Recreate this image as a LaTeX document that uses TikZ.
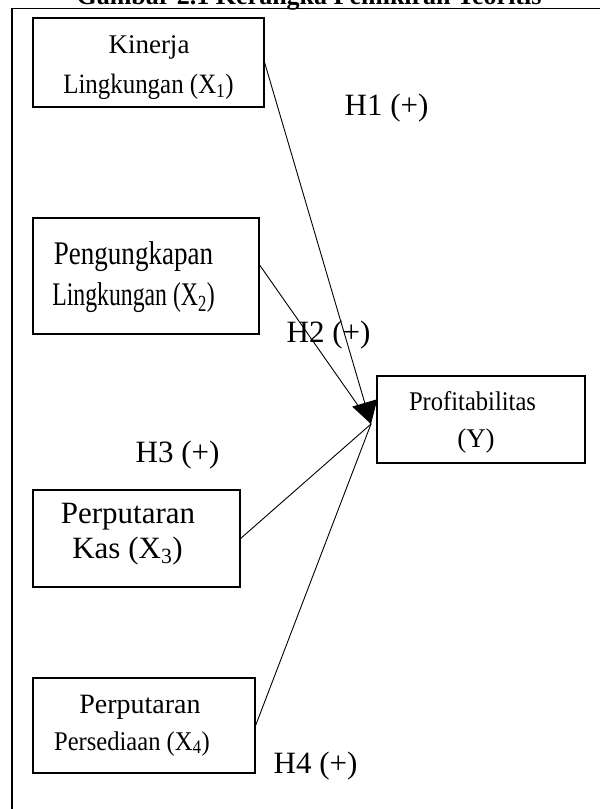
\documentclass[tikz,border=0pt]{standalone}
\usepackage{fontspec}
\setmainfont{Liberation Serif}
\usetikzlibrary{arrows.meta}
\newcommand{\fsz}[1]{\fontsize{#1}{#1}\selectfont}
\begin{document}
\begin{tikzpicture}[x=1pt,y=-1pt,
  box/.style={draw, line width=1.2pt, rectangle, inner sep=0pt, fill=white},
  txt/.style={anchor=base, inner sep=0pt},
  conn/.style={line width=0.9pt},
  hyp/.style={txt, font=\fsz{31}}]
\useasboundingbox (0,0) rectangle (600,809);
\clip (0,0) rectangle (600,809);
% title (cut off at the top)
\node[txt, font=\bfseries\fsz{26}] (title) at (309,4) {Gambar 2.1 Kerangka Pemikiran Teoritis};
% frame
\draw[line width=1.2pt] (12,830) -- (12,8.5) -- (620,8.5);
% connectors
\coordinate (hub) at (371,424);
\node[box, minimum width=231pt, minimum height=89pt] (x1) at (148.5,62.5) {};
\node[box, minimum width=226pt, minimum height=116pt] (x2) at (146,276) {};
\node[box, minimum width=207pt, minimum height=97pt] (x3) at (136.5,538.5) {};
\node[box, minimum width=222pt, minimum height=95pt] (x4) at (144,725.5) {};
\draw[conn, -{Triangle[length=22pt,width=26pt]}] (x1.east) -- (hub);
\draw[conn] ([yshift=11pt]x2.east) -- (hub);
\draw[conn] (x3.east) -- (hub);
\draw[conn] (x4.east) -- (hub);
\node[box, minimum width=208pt, minimum height=87pt] (y) at (481,419.5) {};
% box texts
\node[txt, font=\fsz{27}] (t1a) at (149,53) {Kinerja};
\node[txt, font=\fsz{28}] (t1b) at (148.5,93) {\scalebox{0.89}[1]{Lingkungan (X\textsubscript{1})}};
\node[txt, font=\fsz{33}] (t2a) at (133.5,264) {\scalebox{0.82}[1]{Pengungkapan}};
\node[txt, font=\fsz{33}] (t2b) at (133.5,305) {\scalebox{0.72}[1]{Lingkungan (X\textsubscript{2})}};
\node[txt, font=\fsz{27}] (tya) at (472.5,410) {\scalebox{0.91}[1]{Profitabilitas}};
\node[txt, font=\fsz{27}] (tyb) at (476,447) {(Y)};
\node[txt, font=\fsz{31}] (t3a) at (128,523) {Perputaran};
\node[txt, font=\fsz{31}] (t3b) at (127.5,558) {Kas (X\textsubscript{3})};
\node[txt, font=\fsz{28}] (t4a) at (140,713) {Perputaran};
\node[txt, font=\fsz{27}] (t4b) at (132,750) {\scalebox{0.91}[1]{Persediaan (X\textsubscript{4})}};
% hypothesis labels
\node[hyp] (h1) at (386.5,115) {H1 (+)};
\node[hyp] (h2) at (328.5,342) {H2 (+)};
\node[hyp] (h3) at (177.5,462) {H3 (+)};
\node[hyp] (h4) at (315.5,773) {H4 (+)};
\end{tikzpicture}
\end{document}
